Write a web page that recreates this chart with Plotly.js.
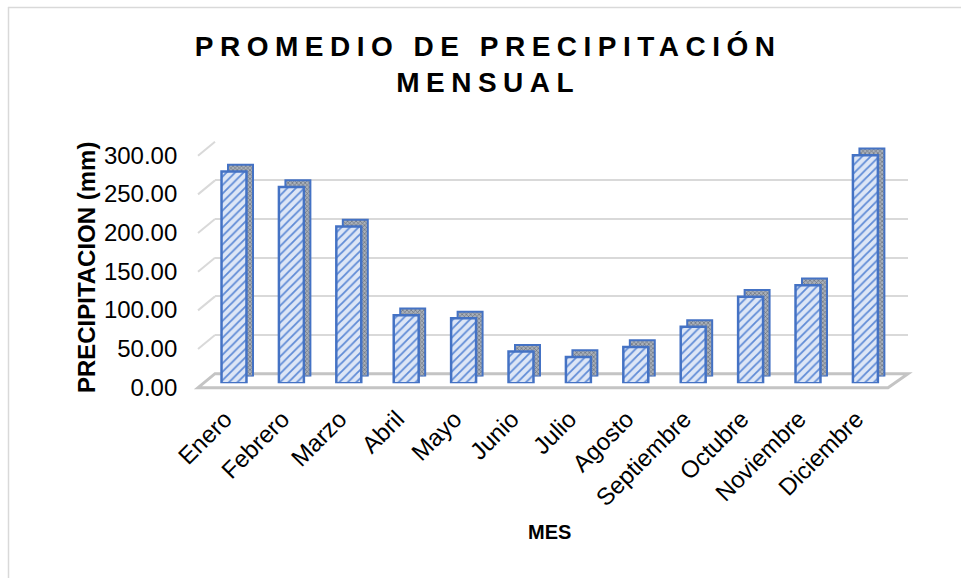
<!DOCTYPE html>
<html>
<head>
<meta charset="utf-8">
<script src="https://cdn.plot.ly/plotly-3.0.1.min.js"></script>
<style>
  html, body { margin: 0; padding: 0; background: #ffffff; }
  #chart { width: 961px; height: 578px; }
  .gtitle { letter-spacing: 6.5px; }
</style>
</head>
<body>
<div id="chart"></div>
<script>
// Monthly mean precipitation (mm)
const meses = ['Enero', 'Febrero', 'Marzo', 'Abril', 'Mayo', 'Junio',
               'Julio', 'Agosto', 'Septiembre', 'Octubre', 'Noviembre', 'Diciembre'];
const precipitacion = [274, 254, 203, 88, 84, 41, 34, 47, 73, 112, 127, 295];
const yTicks = [0, 50, 100, 150, 200, 250, 300];
const yTickText = yTicks.map(v => v.toFixed(2));

const W = 961, H = 578;
const fx = p => p / W;          // pixel -> paper (x)
const fy = p => 1 - p / H;      // pixel -> paper (y)
const FONT = 'Arial, "Liberation Sans", sans-serif';

// Pseudo-3D box geometry in pixels
const front = { x0: 205.3, x1: 894.1, yBase: 383.3, yTop: 151.4 };   // front faces of the columns
const depth = { dx: 6.5, dy: 6.7 };                                  // column depth
const wall  = { x0: 215, x1: 908, yBase: 373.7, yTop: 141.7 };       // back wall
const floorFront = { x0: 198, x1: 888, y: 387.7 };                   // front edge of the floor
const yMax = 300;
const k = (wall.yBase - wall.yTop) / yMax;                           // px per mm

const catRange = [-0.5, meses.length - 0.5];
const barWidth = 0.435;

const traces = [
  // back wall subplot (carries the gridlines only)
  { type: 'scatter', mode: 'none', x: meses, y: precipitacion,
    xaxis: 'x', yaxis: 'y', hoverinfo: 'skip', showlegend: false },
  // depth of the columns: top and side faces
  { type: 'bar', x: meses, y: precipitacion, xaxis: 'x2', yaxis: 'y2',
    width: barWidth, showlegend: false, hoverinfo: 'skip',
    marker: { color: '#a9b0ba',
              line: { color: '#4472c4', width: 2 },
              pattern: { shape: 'x', bgcolor: '#a9b0ba', fgcolor: '#5f6773',
                         size: 3, solidity: 0.35, fillmode: 'replace' } } },
  // front faces of the columns
  { type: 'bar', x: meses, y: precipitacion, xaxis: 'x3', yaxis: 'y3',
    width: barWidth, showlegend: false,
    marker: { color: '#dae3f3',
              line: { color: '#4472c4', width: 2.5 },
              pattern: { shape: '/', bgcolor: '#dde6f6', fgcolor: '#5f8bd6',
                         size: 6, solidity: 0.3, fillmode: 'replace' } } }
];

const hiddenCat = (x0, x1) => ({
  domain: [fx(x0), fx(x1)], type: 'category', categoryarray: meses,
  range: catRange, showgrid: false, showticklabels: false, ticks: '',
  zeroline: false, showline: false, fixedrange: true
});
const hiddenVal = (yb, yt, anchor) => ({
  domain: [fy(yb), fy(yt)], range: [0, yMax], anchor: anchor,
  showgrid: false, showticklabels: false, ticks: '', zeroline: false,
  showline: false, fixedrange: true
});

const layout = {
  width: W, height: H,
  margin: { l: 0, r: 0, t: 0, b: 0 },
  paper_bgcolor: '#ffffff', plot_bgcolor: 'rgba(0,0,0,0)',
  showlegend: false,
  font: { family: FONT, color: '#000000' },
  title: {
    text: 'PROMEDIO DE PRECIPITACIÓN<br>MENSUAL',
    font: { family: FONT, size: 28, weight: 'bold', color: '#000000' },
    x: 0.508, xanchor: 'center', xref: 'paper',
    y: fy(56), yanchor: 'top', yref: 'container'
  },
  xaxis: Object.assign(hiddenCat(wall.x0, wall.x1), { anchor: 'y' }),
  yaxis: Object.assign(hiddenVal(wall.yBase, wall.yTop, 'x'),
                       { showgrid: true, gridcolor: '#d9d9d9', gridwidth: 2,
                         tickvals: yTicks }),
  xaxis2: Object.assign(hiddenCat(front.x0 + depth.dx, front.x1 + depth.dx), { anchor: 'y2' }),
  yaxis2: hiddenVal(front.yBase - depth.dy, front.yTop - depth.dy, 'x2'),
  xaxis3: Object.assign(hiddenCat(front.x0, front.x1), {
    anchor: 'y3', showticklabels: true, tickangle: -45,
    tickfont: { family: FONT, size: 24, color: '#000000' },
    ticklabelstandoff: 16, ticklabelshift: -9,
    title: { text: 'MES', font: { family: FONT, size: 20, weight: 'bold', color: '#000000' },
             standoff: 14 }
  }),
  yaxis3: Object.assign(hiddenVal(front.yBase, front.yTop, 'x3'), {
    showticklabels: true, tickvals: yTicks, ticktext: yTickText,
    tickfont: { family: FONT, size: 24, color: '#000000' },
    ticklabelstandoff: 27, ticklabelshift: 4,
    title: { text: 'PRECIPITACION (mm)',
             font: { family: FONT, size: 24, weight: 'bold', color: '#000000' },
             standoff: 1 }
  }),
  bargap: 0,
  shapes: []
};

// floor of the box
layout.shapes.push({
  type: 'path', xref: 'paper', yref: 'paper', layer: 'below',
  path: `M ${fx(floorFront.x0)} ${fy(floorFront.y)} L ${fx(floorFront.x1)} ${fy(floorFront.y)} ` +
        `L ${fx(wall.x1)} ${fy(wall.yBase)} L ${fx(wall.x0)} ${fy(wall.yBase)} Z`,
  fillcolor: '#ffffff', line: { color: '#c4c4c4', width: 3 }
});
// gridlines running along the left wall
yTicks.forEach(v => {
  if (v === 0) return;
  layout.shapes.push({
    type: 'line', xref: 'paper', yref: 'paper', layer: 'below',
    x0: fx(floorFront.x0), y0: fy(floorFront.y - k * v),
    x1: fx(wall.x0), y1: fy(wall.yBase - k * v),
    line: { color: '#d9d9d9', width: 2 }
  });
});
// chart-area border
layout.shapes.push(
  { type: 'line', xref: 'paper', yref: 'paper', x0: fx(8), y0: fy(7.5), x1: 1.01, y1: fy(7.5),
    line: { color: '#d9d9d9', width: 1.5 } },
  { type: 'line', xref: 'paper', yref: 'paper', x0: fx(8.5), y0: fy(7), x1: fx(8.5), y1: -0.01,
    line: { color: '#d9d9d9', width: 1.5 } }
);

Plotly.newPlot('chart', traces, layout, { displayModeBar: false, staticPlot: true });
</script>
</body>
</html>
